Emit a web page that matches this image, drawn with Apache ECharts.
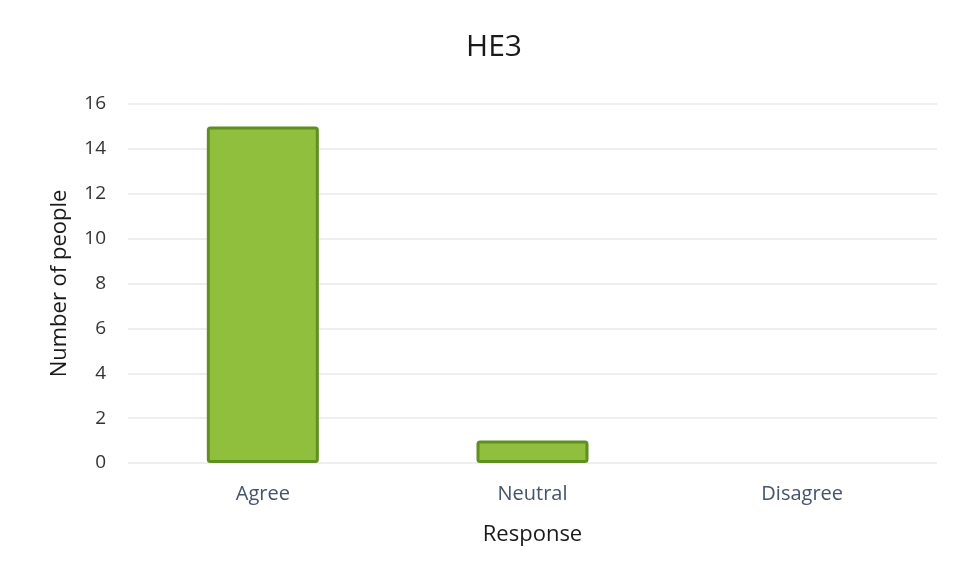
<!DOCTYPE html>
<html>
<head>
<meta charset="utf-8">
<script src="https://cdn.jsdelivr.net/npm/echarts@6/dist/echarts.min.js"></script>
<style>
  html, body { margin: 0; padding: 0; background: #ffffff; }
  #chart { width: 962px; height: 578px; }
</style>
</head>
<body>
<div id="chart"></div>
<script>
// Survey responses for HE3
const categories = ['Agree', 'Neutral', 'Disagree'];
const counts = [15, 1, 0];
const yTicks = { min: 0, max: 16, interval: 2 };

const chart = echarts.init(document.getElementById('chart'));
const font = '"Open Sans", "Noto Sans", sans-serif';

// Empty categories get no outline, so nothing is drawn for a zero count
const barData = counts.map(v => v === 0
  ? { value: v, itemStyle: { borderWidth: 0, opacity: 0 } }
  : v);

chart.setOption({
  backgroundColor: '#ffffff',
  animation: false,
  title: {
    text: 'HE3',
    left: 489,
    textAlign: 'center',
    top: 27,
    textStyle: { fontFamily: font, fontSize: 30, fontWeight: 'normal', color: '#1a1a1a' }
  },
  grid: { left: 128, right: 25, top: 104, bottom: 115 },
  xAxis: {
    type: 'category',
    data: categories,
    name: 'Response',
    nameLocation: 'middle',
    nameGap: 61,
    nameTextStyle: { fontFamily: font, fontSize: 22, color: '#1a1a1a' },
    axisLine: { show: false },
    axisTick: { show: false },
    axisLabel: { fontFamily: font, fontSize: 20, color: '#44546a', margin: 21 }
  },
  yAxis: {
    type: 'value',
    min: yTicks.min,
    max: yTicks.max,
    interval: yTicks.interval,
    name: 'Number of people',
    nameLocation: 'middle',
    nameGap: 57,
    nameTextStyle: { fontFamily: font, fontSize: 22, color: '#1a1a1a' },
    axisLine: { show: false },
    axisTick: { show: false },
    axisLabel: { fontFamily: font, fontSize: 19, color: '#333333', margin: 22 },
    splitLine: { lineStyle: { color: '#e8e8e8', width: 1.5 } }
  },
  series: [{
    type: 'bar',
    data: barData,
    barWidth: 112,
    itemStyle: {
      color: '#8fbf3c',
      borderColor: '#5f8f1f',
      borderWidth: 3,
      borderRadius: 2
    }
  }]
});
</script>
</body>
</html>
